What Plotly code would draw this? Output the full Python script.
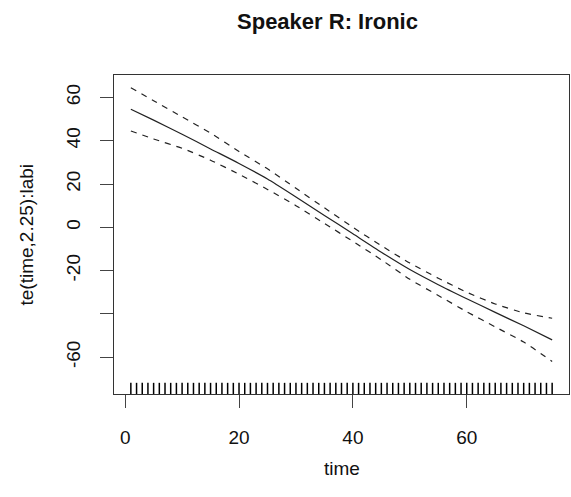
import plotly.graph_objects as go

# ---- data ----
time_pts = [1, 5, 10, 15, 20, 25, 30, 35, 40, 45, 50, 55, 60, 65, 70, 75]
fit = [54.5, 49.5, 43.0, 36.2, 29.5, 22.3, 14.0, 5.5, -3.0, -11.5, -19.5, -26.5, -33.0, -39.3, -45.5, -52.0]
upper = [64.5, 58.5, 51.0, 43.5, 35.0, 27.0, 18.0, 9.0, 0.0, -8.5, -16.5, -23.5, -30.0, -35.4, -39.5, -42.0]
lower = [44.5, 40.8, 36.5, 31.0, 24.5, 17.5, 10.0, 1.8, -6.5, -15.0, -24.0, -31.5, -39.0, -46.0, -53.0, -62.0]
rug_times = list(range(1, 76))

x_ticks = [0, 20, 40, 60]
y_ticks = [-60, -40, -20, 0, 20, 40, 60]
y_ticktext = ["-60", "", "-20", "0", "20", "40", "60"]

title_text = "Speaker R: Ironic"
x_title = "time"
y_title = "te(time,2.25):labi"

FONT = "Liberation Sans, Arial, Helvetica, sans-serif"
W, H = 571, 497
ML, MR, MT, MB = 114, 2, 75, 103

fig = go.Figure()

line_col = "#222222"
fig.add_trace(go.Scatter(x=time_pts, y=upper, mode="lines",
                         line=dict(color=line_col, width=1.2, dash="6px,6px", shape="spline", smoothing=0.6),
                         showlegend=False, hoverinfo="skip"))
fig.add_trace(go.Scatter(x=time_pts, y=fit, mode="lines",
                         line=dict(color=line_col, width=1.2, shape="spline", smoothing=0.6),
                         showlegend=False, hoverinfo="skip"))
fig.add_trace(go.Scatter(x=time_pts, y=lower, mode="lines",
                         line=dict(color=line_col, width=1.2, dash="6px,6px", shape="spline", smoothing=0.6),
                         showlegend=False, hoverinfo="skip"))

# rug on an overlay axis (0..1 of plot height)
rx, ry = [], []
for t in rug_times:
    rx += [t, t, None]
    ry += [0, 0.035, None]
fig.add_trace(go.Scatter(x=rx, y=ry, mode="lines", yaxis="y2",
                         line=dict(color="black", width=1.5),
                         showlegend=False, hoverinfo="skip"))

axis_common = dict(showgrid=False, zeroline=False, showline=True, mirror=True,
                   linecolor="#333333", linewidth=1, ticks="outside", ticklen=13,
                   tickwidth=1, tickcolor="#444444",
                   tickfont=dict(family=FONT, size=19, color="#111111"))

fig.update_layout(
    width=W, height=H,
    margin=dict(l=ML, r=MR, t=MT, b=MB, pad=0),
    paper_bgcolor="white", plot_bgcolor="white",
    title=dict(text="<b>" + title_text + "</b>", x=327.5 / W, xanchor="center",
               y=1 - 21 / H, yanchor="middle",
               font=dict(family=FONT, size=22, color="#111111")),
    xaxis=dict(range=[-1.96, 77.96], tickvals=x_ticks, ticktext=[str(v) for v in x_ticks],
               ticklabelstandoff=13, **axis_common),
    yaxis=dict(range=[-77.0, 70.35], tickvals=y_ticks, ticktext=y_ticktext,
               tickangle=-90, ticklabelstandoff=12, **axis_common),
    yaxis2=dict(range=[0, 1], overlaying="y", visible=False, fixedrange=True),
    annotations=[
        dict(text=x_title, xref="paper", yref="paper", x=0.5, y=(394 - 468) / 319,
             xanchor="center", yanchor="middle", showarrow=False,
             font=dict(family=FONT, size=19, color="#111111")),
        dict(text=y_title, xref="paper", yref="paper", x=(26 - ML) / 455, y=0.5,
             xanchor="center", yanchor="middle", textangle=-90, showarrow=False,
             font=dict(family=FONT, size=19, color="#111111")),
    ],
)

fig.write_html("out.html")
